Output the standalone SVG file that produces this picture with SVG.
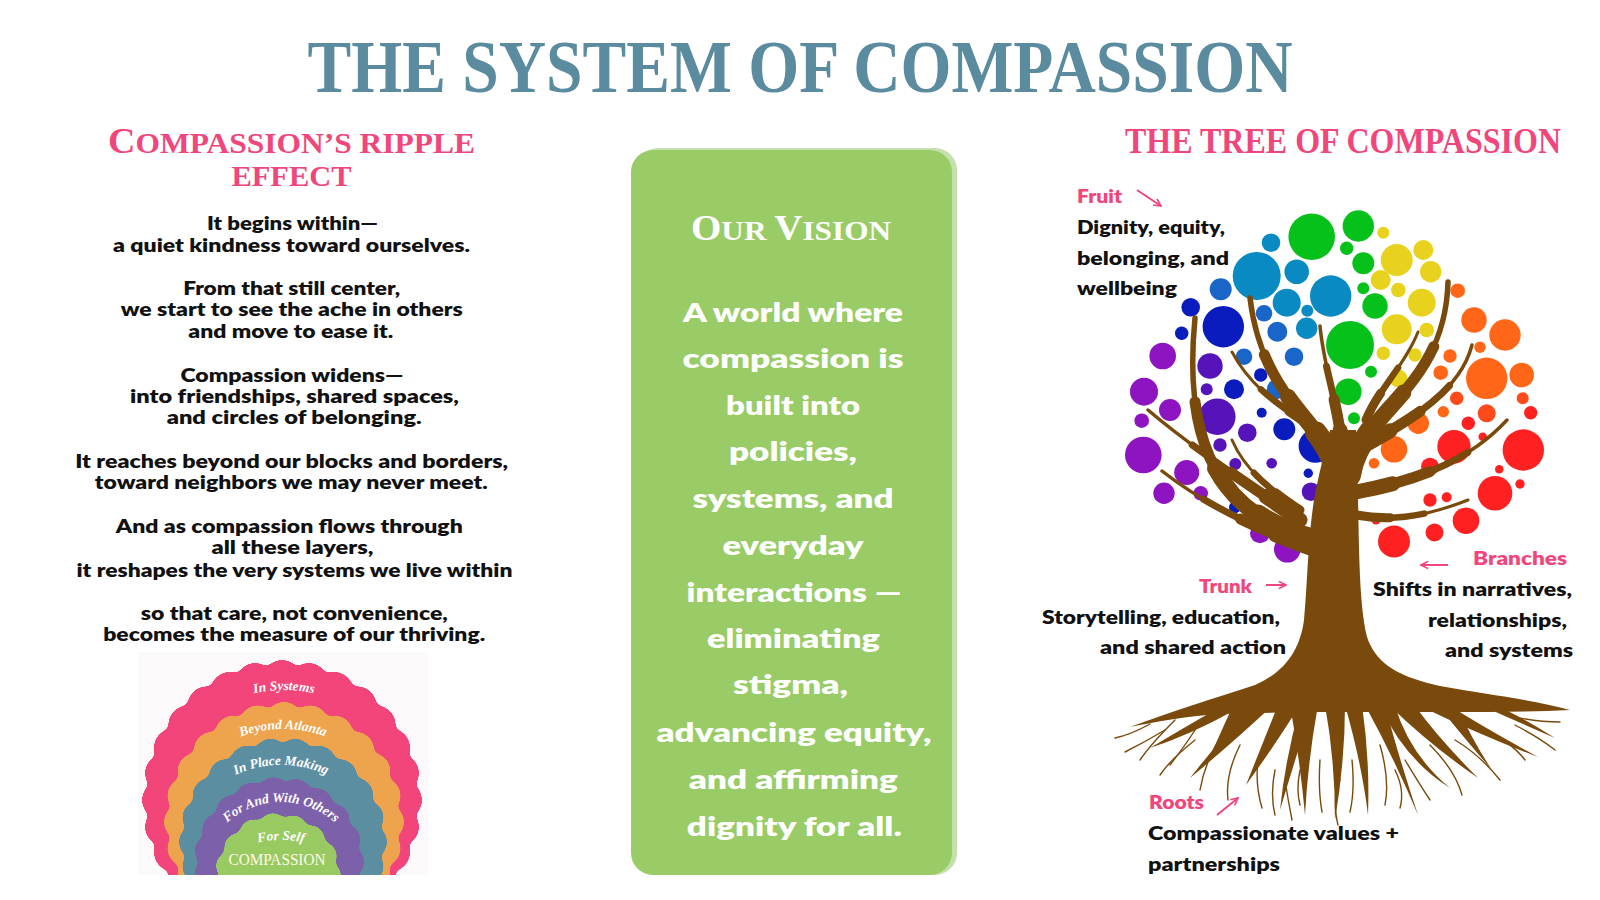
<svg xmlns="http://www.w3.org/2000/svg" xmlns:xlink="http://www.w3.org/1999/xlink" width="1600" height="900" viewBox="0 0 1600 900">
<style>
.title{font-family:'Liberation Serif','DejaVu Serif',serif;font-weight:700;fill:#5b8b9f}
.head{font-family:'Liberation Serif','DejaVu Serif',serif;font-weight:700;fill:#f0467b}
.body{font-family:Lato,'Liberation Sans',sans-serif;font-weight:800;font-size:19.5px;fill:#111;text-anchor:middle}
.card{font-family:Lato,'Liberation Sans',sans-serif;font-weight:800;font-size:26.5px;fill:#fff;text-anchor:middle}
.cardh{font-family:'Liberation Serif','DejaVu Serif',serif;font-weight:700;fill:#fff;text-anchor:middle}
.lbl{font-family:Lato,'Liberation Sans',sans-serif;font-weight:800;font-size:19.5px;fill:#111}
.pk{fill:#f0467b}
.end{text-anchor:end}
.rip{font-family:'Liberation Serif','DejaVu Serif',serif;font-style:italic;font-weight:700;fill:#fff;font-size:13.5px;text-anchor:middle}
.wave{stroke-dasharray:0 1;stroke-linecap:round}
.arrow{stroke:#f0467b;stroke-width:2;fill:none;marker-end:url(#ah)}
.g{fill:#07c11b}.y{fill:#e9d21d}.lb{fill:#0a8ac3}.mb{fill:#1a66c8}.nv{fill:#0a1cbd}.in{fill:#5513b9}.vi{fill:#8e14c1}.or{fill:#ff6618}.ro{fill:#ff4a1c}.rd{fill:#ff2121}
.br{fill:none;stroke:#7a4a0c;stroke-linecap:round}
.rl{fill:none;stroke:#7a4a0c;stroke-width:1.4;stroke-linecap:round}
</style>
<defs>
<marker id="ah" viewBox="0 0 10 10" refX="9" refY="5" markerWidth="9" markerHeight="9" markerUnits="userSpaceOnUse" orient="auto">
<path d="M1,1 L9,5 L1,9" fill="none" stroke="#f0467b" stroke-width="1.8"/>
</marker>
<filter id="goo" x="-15%" y="-15%" width="130%" height="130%">
<feGaussianBlur in="SourceGraphic" stdDeviation="3.2" result="b"/>
<feColorMatrix in="b" type="matrix" values="1 0 0 0 0  0 1 0 0 0  0 0 1 0 0  0 0 0 20 -9"/>
</filter>
<clipPath id="ripClip"><rect x="130" y="640" width="310" height="235"/></clipPath>
<path id="a1" d="M156.2,779.5 A136,136 0 0,1 411.8,779.5"/>
<path id="a2" d="M169.3,808.6 A121,121 0 0,1 396.7,808.6"/>
<path id="a3" d="M176.7,838 A111,111 0 0,1 385.3,838"/>
<path id="a4" d="M204.9,855.3 A81,81 0 0,1 357.1,855.3"/>
<path id="a5" d="M187,905.8 A100,100 0 0,1 375,905.8"/>
<path id="b1" pathLength="100" d="M1314,540 C1240,520 1180,470 1195,318"/>
<path id="b2" pathLength="100" d="M1300,520 C1250,485 1195,450 1148,410"/>
<path id="b3" pathLength="100" d="M1310,548 C1260,530 1205,505 1162,471"/>
<path id="b4" pathLength="100" d="M1335,470 C1328,425 1262,400 1250,298"/>
<path id="b5" pathLength="100" d="M1318,432 C1290,410 1255,395 1232,352"/>
<path id="b6" pathLength="100" d="M1344,460 C1338,400 1324,370 1320,326"/>
<path id="b7" pathLength="100" d="M1350,475 C1360,410 1445,390 1448,282"/>
<path id="b8" pathLength="100" d="M1366,420 C1378,390 1405,365 1418,332"/>
<path id="b9" pathLength="100" d="M1360,448 C1410,420 1460,392 1472,345"/>
<path id="b10" pathLength="100" d="M1356,492 C1420,480 1470,460 1507,420"/>
<path id="b11" pathLength="100" d="M1356,515 C1395,522 1430,515 1468,500"/>
<path id="b12" pathLength="100" d="M1300,510 C1270,490 1245,470 1232,440"/>
</defs>

<rect width="1600" height="900" fill="#ffffff"/>

<g id="title">
<text class="title" x="800" y="92" font-size="74" text-anchor="middle" textLength="985" lengthAdjust="spacingAndGlyphs">THE SYSTEM OF COMPASSION</text>
</g>

<g id="ripple-heading">
<text class="head" x="291.5" y="153" text-anchor="middle" textLength="367" lengthAdjust="spacingAndGlyphs"><tspan font-size="35">C</tspan><tspan font-size="29">OMPASSION’S RIPPLE</tspan></text>
<text class="head" x="291.5" y="186" font-size="30" text-anchor="middle" textLength="120" lengthAdjust="spacingAndGlyphs">EFFECT</text>
</g>

<g id="ripple-text">
<text class="body" x="292.5" y="230" textLength="171" lengthAdjust="spacingAndGlyphs">It begins within—</text>
<text class="body" x="291.5" y="251.7" textLength="357" lengthAdjust="spacingAndGlyphs">a quiet kindness toward ourselves.</text>
<text class="body" x="291.7" y="295" textLength="217" lengthAdjust="spacingAndGlyphs">From that still center,</text>
<text class="body" x="291.8" y="316" textLength="342" lengthAdjust="spacingAndGlyphs">we start to see the ache in others</text>
<text class="body" x="290.8" y="338" textLength="205" lengthAdjust="spacingAndGlyphs">and move to ease it.</text>
<text class="body" x="292" y="381.7" textLength="223" lengthAdjust="spacingAndGlyphs">Compassion widens—</text>
<text class="body" x="294.5" y="403" textLength="329" lengthAdjust="spacingAndGlyphs">into friendships, shared spaces,</text>
<text class="body" x="294.2" y="424" textLength="255" lengthAdjust="spacingAndGlyphs">and circles of belonging.</text>
<text class="body" x="291.7" y="468" textLength="433" lengthAdjust="spacingAndGlyphs">It reaches beyond our blocks and borders,</text>
<text class="body" x="291.3" y="489" textLength="393" lengthAdjust="spacingAndGlyphs">toward neighbors we may never meet.</text>
<text class="body" x="289.3" y="533" textLength="347" lengthAdjust="spacingAndGlyphs">And as compassion flows through</text>
<text class="body" x="292.5" y="554" textLength="162" lengthAdjust="spacingAndGlyphs">all these layers,</text>
<text class="body" x="294.5" y="576.7" textLength="436" lengthAdjust="spacingAndGlyphs">it reshapes the very systems we live within</text>
<text class="body" x="294.3" y="620" textLength="307" lengthAdjust="spacingAndGlyphs">so that care, not convenience,</text>
<text class="body" x="294.2" y="641" textLength="382" lengthAdjust="spacingAndGlyphs">becomes the measure of our thriving.</text>
</g>

<g id="ripple-graphic">
<rect x="138" y="652" width="290" height="223" fill="#fcf9fb"/>
<g clip-path="url(#ripClip)">
<circle class="wave" cx="282" cy="800" r="121" fill="#f2457a" stroke="#f2457a" stroke-width="38" pathLength="28" filter="url(#goo)"/>
<circle class="wave" cx="284" cy="822" r="102" fill="#eea34d" stroke="#eea34d" stroke-width="36" pathLength="24" filter="url(#goo)"/>
<circle class="wave" cx="283" cy="842" r="87" fill="#5b8ea1" stroke="#5b8ea1" stroke-width="34" pathLength="22" filter="url(#goo)"/>
<circle class="wave" cx="279" cy="862" r="69" fill="#7b61a9" stroke="#7b61a9" stroke-width="32" pathLength="19" filter="url(#goo)"/>
<circle class="wave" cx="278" cy="876" r="49" fill="#99ca62" stroke="#99ca62" stroke-width="28" pathLength="15" filter="url(#goo)"/>
</g>
<text class="rip" font-size="14"><textPath href="#a1" startOffset="50%">In Systems</textPath></text>
<text class="rip" font-size="13"><textPath href="#a2" startOffset="50%">Beyond Atlanta</textPath></text>
<text class="rip"><textPath href="#a3" startOffset="50%">In Place Making</textPath></text>
<text class="rip" font-size="13"><textPath href="#a4" startOffset="50%">For And With Others</textPath></text>
<text class="rip" font-size="13"><textPath href="#a5" startOffset="50%">For Self</textPath></text>
<text x="277" y="865" font-family="'Liberation Serif','DejaVu Serif',serif" font-size="16" fill="#fdf8e8" text-anchor="middle" textLength="97" lengthAdjust="spacingAndGlyphs">COMPASSION</text>
</g>

<g id="vision-card">
<rect x="636" y="148" width="321" height="727" rx="22" fill="#c6e0ad"/>
<rect x="631" y="150" width="321" height="725" rx="22" fill="#99cc66"/>
<text class="cardh" x="791" y="240" textLength="200" lengthAdjust="spacingAndGlyphs"><tspan font-size="35">O</tspan><tspan font-size="28">UR </tspan><tspan font-size="35">V</tspan><tspan font-size="28">ISION</tspan></text>
<text class="card" x="793" y="321.5" textLength="220" lengthAdjust="spacingAndGlyphs">A world where</text>
<text class="card" x="793" y="368" textLength="221" lengthAdjust="spacingAndGlyphs">compassion is</text>
<text class="card" x="793" y="414.5" textLength="134" lengthAdjust="spacingAndGlyphs">built into</text>
<text class="card" x="793" y="461" textLength="128" lengthAdjust="spacingAndGlyphs">policies,</text>
<text class="card" x="793" y="508" textLength="201" lengthAdjust="spacingAndGlyphs">systems, and</text>
<text class="card" x="793" y="555" textLength="141" lengthAdjust="spacingAndGlyphs">everyday</text>
<text class="card" x="794" y="601.7" textLength="215" lengthAdjust="spacingAndGlyphs">interactions —</text>
<text class="card" x="793.5" y="648" textLength="173" lengthAdjust="spacingAndGlyphs">eliminating</text>
<text class="card" x="790.5" y="693.5" textLength="115" lengthAdjust="spacingAndGlyphs">stigma,</text>
<text class="card" x="794" y="741.5" textLength="275" lengthAdjust="spacingAndGlyphs">advancing equity,</text>
<text class="card" x="793.3" y="789" textLength="209" lengthAdjust="spacingAndGlyphs">and affirming</text>
<text class="card" x="794.3" y="836" textLength="215" lengthAdjust="spacingAndGlyphs">dignity for all.</text>
</g>

<g id="tree-heading">
<text class="head" x="1343" y="153" font-size="35" text-anchor="middle" textLength="436" lengthAdjust="spacingAndGlyphs">THE TREE OF COMPASSION</text>
</g>

<g id="tree">
<g id="fruit-circles">
<circle class="g" cx="1311.7" cy="236.7" r="23.3"/><circle class="g" cx="1358.3" cy="226" r="15.7"/><circle class="g" cx="1346.7" cy="248.3" r="6.7"/><circle class="g" cx="1363.3" cy="263.3" r="11"/><circle class="g" cx="1363.3" cy="288.3" r="6"/><circle class="g" cx="1375" cy="306" r="12.7"/><circle class="g" cx="1350" cy="345" r="24"/><circle class="g" cx="1371" cy="371.7" r="6"/><circle class="g" cx="1348.3" cy="391.7" r="13.3"/><circle class="g" cx="1354" cy="418.3" r="6"/>
<circle class="y" cx="1383.3" cy="232.7" r="6"/><circle class="y" cx="1396.7" cy="260" r="16"/><circle class="y" cx="1423.3" cy="250" r="10"/><circle class="y" cx="1430.7" cy="271.7" r="10.7"/><circle class="y" cx="1380.7" cy="280" r="10"/><circle class="y" cx="1398.3" cy="290" r="7.3"/><circle class="y" cx="1421.7" cy="302.7" r="14"/><circle class="y" cx="1396.7" cy="329.3" r="15"/><circle class="y" cx="1426.7" cy="330" r="7.3"/><circle class="y" cx="1383.3" cy="353.3" r="6.7"/><circle class="y" cx="1415" cy="355" r="6.7"/><circle class="y" cx="1398.3" cy="378.3" r="9"/>
<circle class="lb" cx="1271" cy="242.7" r="9.3"/><circle class="lb" cx="1256.7" cy="276" r="24"/><circle class="lb" cx="1296.7" cy="271.7" r="12.3"/><circle class="lb" cx="1330.7" cy="296" r="20.7"/><circle class="lb" cx="1286.7" cy="302.7" r="14"/><circle class="lb" cx="1307.3" cy="310.7" r="6"/><circle class="lb" cx="1306.7" cy="328.3" r="10.7"/>
<circle class="mb" cx="1220.7" cy="289.3" r="11"/><circle class="mb" cx="1264" cy="313.3" r="8.3"/><circle class="mb" cx="1277.3" cy="331.7" r="10"/><circle class="mb" cx="1294" cy="356.7" r="9.3"/><circle class="mb" cx="1244" cy="356.7" r="8.3"/><circle class="mb" cx="1276.7" cy="389.3" r="10"/>
<circle class="nv" cx="1190.7" cy="307.3" r="9.3"/><circle class="nv" cx="1223.3" cy="326.7" r="20.7"/><circle class="nv" cx="1181.7" cy="333.3" r="6.7"/><circle class="nv" cx="1260.7" cy="375" r="6.7"/><circle class="nv" cx="1234" cy="389.3" r="10"/><circle class="nv" cx="1261.7" cy="412.7" r="5"/><circle class="nv" cx="1284.3" cy="429.3" r="11"/><circle class="nv" cx="1315.3" cy="446" r="16.7"/><circle class="nv" cx="1308.3" cy="473.3" r="4.7"/><circle class="nv" cx="1329.3" cy="468.3" r="5.3"/><circle class="nv" cx="1235" cy="507.3" r="6"/>
<circle class="in" cx="1210" cy="366" r="12.7"/><circle class="in" cx="1206.7" cy="389.3" r="6"/><circle class="in" cx="1217.3" cy="416.7" r="18.3"/><circle class="in" cx="1247.3" cy="432.7" r="9.3"/><circle class="in" cx="1220" cy="445" r="6.7"/><circle class="in" cx="1235.3" cy="464" r="6"/><circle class="in" cx="1271.7" cy="463.3" r="5.3"/><circle class="in" cx="1311" cy="491.7" r="9.3"/><circle class="in" cx="1318.3" cy="510.7" r="4.3"/>
<circle class="vi" cx="1162.7" cy="356" r="13.3"/><circle class="vi" cx="1144" cy="391.7" r="14"/><circle class="vi" cx="1170" cy="410" r="11"/><circle class="vi" cx="1141.7" cy="420.7" r="7.3"/><circle class="vi" cx="1143.3" cy="455" r="18.3"/><circle class="vi" cx="1186.7" cy="472.5" r="12.5"/><circle class="vi" cx="1164" cy="493.3" r="10.7"/><circle class="vi" cx="1200.7" cy="493.3" r="7.3"/><circle class="vi" cx="1260" cy="533.3" r="10"/><circle class="vi" cx="1287.3" cy="549.3" r="13.3"/>
<circle class="or" cx="1457.7" cy="290.7" r="7.3"/><circle class="or" cx="1474" cy="320" r="12.7"/><circle class="or" cx="1505" cy="335" r="15.7"/><circle class="or" cx="1480" cy="347.3" r="5.7"/><circle class="or" cx="1450" cy="356" r="6.7"/><circle class="or" cx="1440.7" cy="372.7" r="7.3"/><circle class="or" cx="1486.7" cy="378.3" r="20.7"/><circle class="or" cx="1521.7" cy="375" r="12.3"/><circle class="or" cx="1418.3" cy="423.3" r="10.7"/><circle class="or" cx="1394" cy="449.3" r="13.3"/><circle class="or" cx="1374" cy="463.3" r="5.3"/><circle class="or" cx="1443.3" cy="411.7" r="5.7"/>
<circle class="ro" cx="1456.7" cy="398.3" r="6.7"/><circle class="ro" cx="1522.7" cy="398.3" r="6"/><circle class="ro" cx="1486.7" cy="413.3" r="9"/>
<circle class="rd" cx="1530.7" cy="412.7" r="6.7"/><circle class="rd" cx="1468.3" cy="423.3" r="6.7"/><circle class="rd" cx="1482.7" cy="436.7" r="4.3"/><circle class="rd" cx="1454" cy="446.7" r="16.7"/><circle class="rd" cx="1523.3" cy="450" r="20.7"/><circle class="rd" cx="1430" cy="466.7" r="9"/><circle class="rd" cx="1499.3" cy="469.3" r="4.3"/><circle class="rd" cx="1520" cy="484" r="4.7"/><circle class="rd" cx="1495" cy="493.3" r="17.3"/><circle class="rd" cx="1430" cy="500" r="6.7"/><circle class="rd" cx="1446.7" cy="497.3" r="5"/><circle class="rd" cx="1466" cy="520.7" r="13.3"/><circle class="rd" cx="1376" cy="520" r="4.5"/><circle class="rd" cx="1434.5" cy="532.5" r="9"/><circle class="rd" cx="1394" cy="541.5" r="16"/>
</g>
<g id="branches" class="br">
<g stroke-width="22" stroke-dasharray="22 200"><use href="#b1"/><use href="#b4"/><use href="#b7"/></g>
<g stroke-width="16" stroke-dasharray="45 200"><use href="#b1"/><use href="#b4"/><use href="#b7"/></g>
<g stroke-width="11" stroke-dasharray="70 200"><use href="#b1"/><use href="#b4"/><use href="#b7"/></g>
<g stroke-width="5.5"><use href="#b1"/><use href="#b4"/><use href="#b7"/></g>
<g stroke-width="15" stroke-dasharray="22 200"><use href="#b2"/><use href="#b3"/><use href="#b6"/><use href="#b9"/><use href="#b10"/></g>
<g stroke-width="11" stroke-dasharray="45 200"><use href="#b2"/><use href="#b3"/><use href="#b6"/><use href="#b9"/><use href="#b10"/></g>
<g stroke-width="7" stroke-dasharray="70 200"><use href="#b2"/><use href="#b3"/><use href="#b6"/><use href="#b9"/><use href="#b10"/></g>
<g stroke-width="3.5"><use href="#b2"/><use href="#b3"/><use href="#b6"/><use href="#b9"/><use href="#b10"/></g>
<g stroke-width="9" stroke-dasharray="30 200"><use href="#b5"/><use href="#b8"/><use href="#b11"/><use href="#b12"/></g>
<g stroke-width="6.5" stroke-dasharray="60 200"><use href="#b5"/><use href="#b8"/><use href="#b11"/><use href="#b12"/></g>
<g stroke-width="3"><use href="#b5"/><use href="#b8"/><use href="#b11"/><use href="#b12"/></g>
</g>
<g id="trunk" fill="#7a4a0c">
<path d="M1330,430 L1356,430 C1360,500 1356,600 1368,640 C1378,665 1400,677 1440,686 C1490,695 1535,700 1570,710 C1530,712 1490,712 1450,712 L1380,712 L1300,712 L1220,714 C1185,716 1155,722 1130,727 C1170,712 1215,698 1255,685 C1285,672 1300,650 1304,620 C1308,580 1308,520 1318,480 C1322,460 1328,445 1330,430 Z"/>
<path d="M1290,705 Q1300,760 1305,815 Q1308,760 1318,705 Z"/>
<path d="M1325,705 Q1335,760 1335,820 Q1345,760 1345,705 Z"/>
<path d="M1345,705 Q1362,765 1368,815 Q1370,760 1362,705 Z"/>
<path d="M1365,705 Q1395,760 1418,815 Q1398,755 1385,705 Z"/>
<path d="M1390,706 Q1430,745 1478,778 Q1440,740 1415,706 Z"/>
<path d="M1420,706 Q1480,735 1538,757 Q1485,728 1450,706 Z"/>
<path d="M1278,705 Q1262,745 1246,785 Q1275,745 1300,705 Z"/>
<path d="M1250,706 Q1220,740 1190,778 Q1230,745 1272,706 Z"/>
<path d="M1215,710 Q1180,730 1150,748 Q1190,735 1235,710 Z"/>
<path d="M1300,706 Q1285,760 1280,810 Q1295,760 1312,706 Z"/>
<path d="M1380,706 Q1405,760 1450,788 Q1410,755 1395,706 Z"/>
<path d="M1480,705 Q1525,725 1555,738 Q1520,716 1495,705 Z"/>
<path d="M1230,712 Q1215,745 1208,762 Q1225,742 1248,712 Z"/>
<path d="M1440,708 Q1470,745 1492,770 Q1472,740 1458,708 Z"/>
</g>
<g id="rootlets">
<path class="rl" d="M1150,724 Q1130,735 1115,738"/>
<path class="rl" d="M1175,720 Q1150,745 1140,760"/>
<path class="rl" d="M1200,722 Q1188,742 1170,765"/>
<path class="rl" d="M1225,730 Q1205,760 1200,790"/>
<path class="rl" d="M1240,745 Q1225,775 1228,800"/>
<path class="rl" d="M1258,760 Q1255,785 1262,808"/>
<path class="rl" d="M1275,770 Q1270,795 1275,815"/>
<path class="rl" d="M1320,760 Q1318,790 1322,812"/>
<path class="rl" d="M1352,760 Q1355,790 1350,812"/>
<path class="rl" d="M1380,745 Q1390,780 1385,805"/>
<path class="rl" d="M1405,760 Q1420,785 1430,800"/>
<path class="rl" d="M1430,745 Q1455,770 1462,795"/>
<path class="rl" d="M1455,740 Q1480,755 1500,780"/>
<path class="rl" d="M1475,725 Q1510,740 1525,760"/>
<path class="rl" d="M1505,715 Q1535,722 1560,722"/>
<path class="rl" d="M1515,725 Q1540,738 1555,750"/>
<path class="rl" d="M1195,740 Q1170,760 1160,775"/>
<path class="rl" d="M1285,780 Q1288,800 1292,820"/>
<path class="rl" d="M1340,780 Q1332,800 1338,825"/>
<path class="rl" d="M1165,730 Q1145,742 1125,752"/>
<path class="rl" d="M1300,770 Q1296,790 1300,805"/>
<path class="rl" d="M1395,770 Q1405,790 1400,808"/>
</g>
</g>

<g id="fruit-label">
<text class="lbl pk" x="1077" y="203" textLength="45" lengthAdjust="spacingAndGlyphs">Fruit</text>
<text class="lbl" x="1077" y="234" textLength="148" lengthAdjust="spacingAndGlyphs">Dignity, equity,</text>
<text class="lbl" x="1077" y="265" textLength="152" lengthAdjust="spacingAndGlyphs">belonging, and</text>
<text class="lbl" x="1077" y="295" textLength="100" lengthAdjust="spacingAndGlyphs">wellbeing</text>
</g>

<g id="trunk-label">
<text class="lbl pk" x="1199" y="593" textLength="53" lengthAdjust="spacingAndGlyphs">Trunk</text>
<text class="lbl end" x="1280" y="624" textLength="238" lengthAdjust="spacingAndGlyphs">Storytelling, education,</text>
<text class="lbl end" x="1286" y="654" textLength="186" lengthAdjust="spacingAndGlyphs">and shared action</text>
</g>

<g id="branches-label">
<text class="lbl pk" x="1473" y="565" textLength="94" lengthAdjust="spacingAndGlyphs">Branches</text>
<text class="lbl" x="1373" y="596" textLength="199" lengthAdjust="spacingAndGlyphs">Shifts in narratives,</text>
<text class="lbl" x="1428" y="627" textLength="139" lengthAdjust="spacingAndGlyphs">relationships,</text>
<text class="lbl" x="1445" y="657" textLength="128" lengthAdjust="spacingAndGlyphs">and systems</text>
</g>

<g id="roots-label">
<text class="lbl pk" x="1149" y="809" textLength="55" lengthAdjust="spacingAndGlyphs">Roots</text>
<text class="lbl" x="1148" y="840" textLength="251" lengthAdjust="spacingAndGlyphs">Compassionate values +</text>
<text class="lbl" x="1148" y="871" textLength="132" lengthAdjust="spacingAndGlyphs">partnerships</text>
</g>

<g id="connectors">
<path class="arrow" d="M1137,190 L1161,206"/>
<path class="arrow" d="M1266,585 L1286,585"/>
<path class="arrow" d="M1448,565 L1421,565"/>
<path class="arrow" d="M1217,815 L1238,798"/>
</g>
</svg>
